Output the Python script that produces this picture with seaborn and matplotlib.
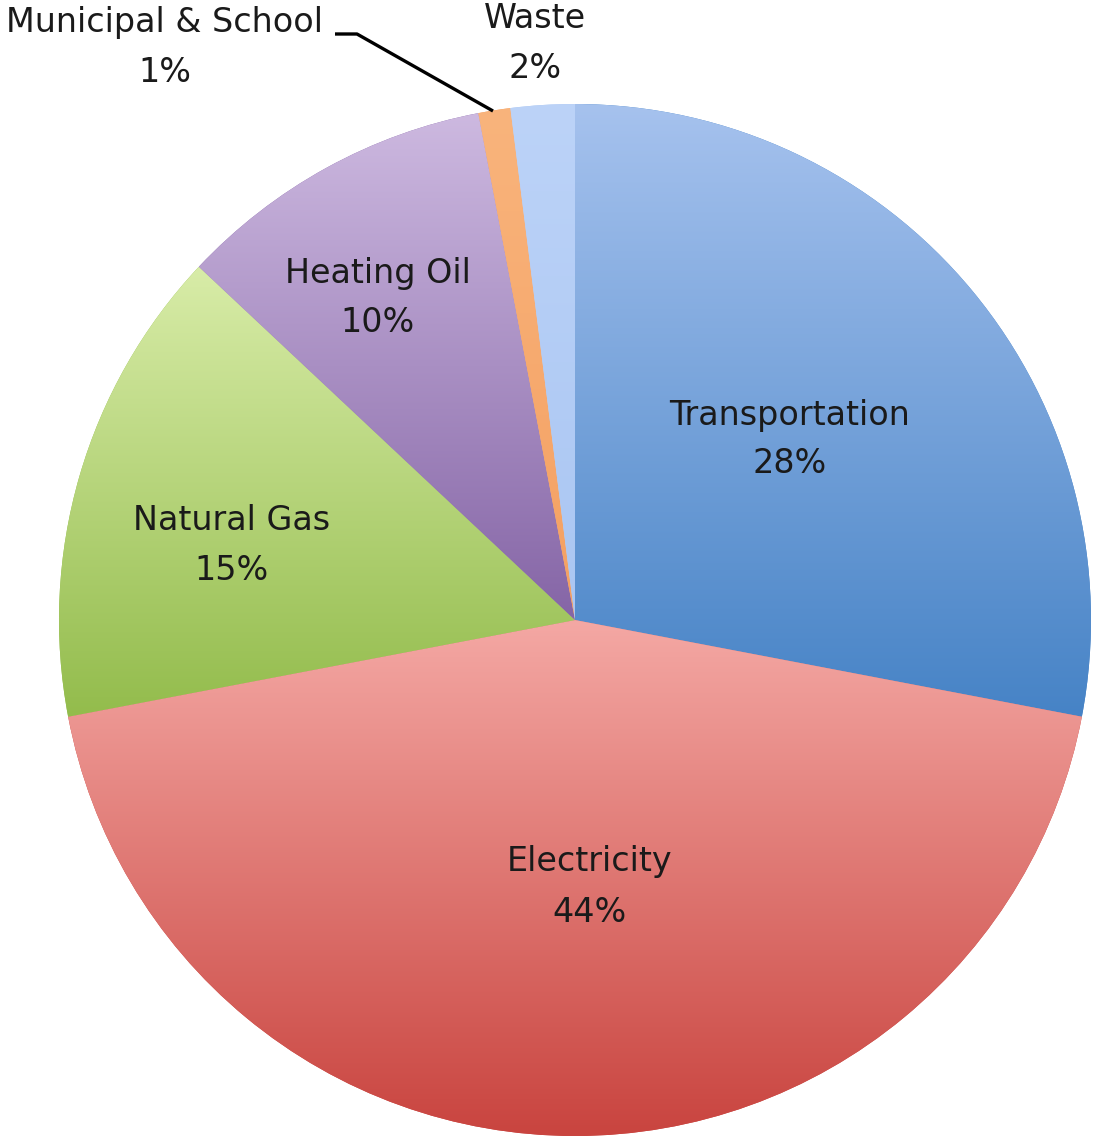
import numpy as np
import matplotlib
matplotlib.use("Agg")
import matplotlib.pyplot as plt
import seaborn as sns
from matplotlib.colors import LinearSegmentedColormap

sns.set_theme(style="white")
plt.rcParams['font.family'] = ['DejaVu Sans']

# Data
categories = ["Transportation", "Electricity", "Natural Gas", "Heating Oil",
              "Municipal & School", "Waste"]
values = [28, 44, 15, 10, 1, 2]
pct_labels = ["28%", "44%", "15%", "10%", "1%", "2%"]

# Styles (top colour, bottom colour for each wedge gradient)
top_colors = ["#a6c2ee", "#f4a8a4", "#d8eca8", "#cdb9e0", "#f9b47c", "#bcd3f8"]
bot_colors = ["#4683c6", "#c9443f", "#93bc4c", "#8565a6", "#f4a062", "#aac6f2"]

W, H = 1095, 1138
fig = plt.figure(figsize=(W / 100, H / 100), dpi=100)
ax = fig.add_axes([0, 0, 1, 1])

cx, cy_px, R = 575, 620, 516
cy = H - cy_px

wedges, _ = ax.pie(values, startangle=90, counterclock=False, center=(cx, cy),
                   radius=R, frame=True,
                   wedgeprops=dict(linewidth=0, edgecolor="none"))
ax.set_xlim(0, W)
ax.set_ylim(0, H)
ax.set_aspect("equal")
ax.axis("off")

# gradient fill per wedge (light at top, dark at bottom)
grad = np.linspace(0, 1, 256).reshape(-1, 1)
renderer = fig.canvas.get_renderer()
inv = ax.transData.inverted()
for w, c1, c2 in zip(wedges, top_colors, bot_colors):
    w.set_facecolor(c2)
    ext = w.get_window_extent(renderer=renderer)
    (x0, y0), (x1, y1) = inv.transform([[ext.x0, ext.y0], [ext.x1, ext.y1]])
    cmap = LinearSegmentedColormap.from_list("g", [c1, c2])
    im = ax.imshow(grad, cmap=cmap, extent=(x0, x1, y0, y1), aspect="auto",
                   origin="upper", zorder=w.get_zorder() + 0.1,
                   interpolation="bicubic")
    im.set_clip_path(w)
ax.set_xlim(0, W)
ax.set_ylim(0, H)

# labels (pixel positions, top-left origin)
label_pos = [(790, 415, 463), (590, 862, 912), (232, 520, 570),
             (378, 273, 322), (165, 22, 72), (535, 18, 68)]
fs = 24
for name, pct, (x, y1, y2) in zip(categories, pct_labels, label_pos):
    ax.text(x, H - y1, name, ha="center", va="center", fontsize=fs,
            color="#1a1a1a", zorder=10)
    ax.text(x, H - y2, pct, ha="center", va="center", fontsize=fs,
            color="#1a1a1a", zorder=10)

# leader line for Municipal & School
lx = [335, 357, 493]
ly = [34, 34, 111]
ax.plot(lx, [H - v for v in ly], color="black", lw=2.4, zorder=10,
        solid_capstyle="butt")

fig.savefig("out.png", dpi=100)
